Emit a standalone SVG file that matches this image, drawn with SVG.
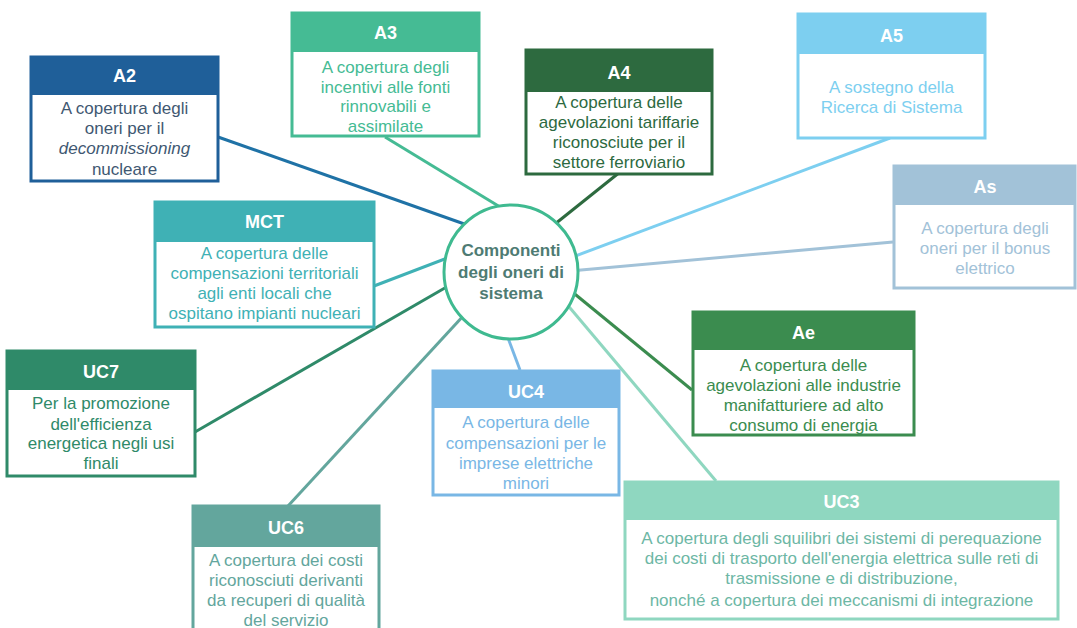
<svg xmlns="http://www.w3.org/2000/svg" width="1077" height="628" viewBox="0 0 1077 628">
  <style>
    .frame { fill: #ffffff; stroke: currentColor; stroke-width: 3; }
    .head { fill: currentColor; }
    .title { font-family: "Liberation Sans", Arial, sans-serif; font-size: 18px; font-weight: bold; fill: #ffffff; text-anchor: middle; }
    .body { font-family: "Liberation Sans", Arial, sans-serif; font-size: 17px; fill: currentColor; text-anchor: middle; }
    .links line { stroke-width: 3; fill: none; }
    .hub { font-family: "Liberation Sans", Arial, sans-serif; font-size: 17px; font-weight: bold; fill: #4e7b73; text-anchor: middle; }
  </style>
  <rect width="1077" height="628" fill="#ffffff"/>

  <!-- connectors from each component to the hub -->
  <g id="connectors" class="links">
    <line x1="218" y1="137" x2="470" y2="226" stroke="#1f72a6"/>
    <line x1="385" y1="137" x2="505" y2="210" stroke="#45bb94"/>
    <line x1="620" y1="172" x2="550" y2="228" stroke="#2d6a3f"/>
    <line x1="890" y1="138" x2="570" y2="258" stroke="#7dcff0"/>
    <line x1="893" y1="242" x2="570" y2="271" stroke="#a2c2d8"/>
    <line x1="374" y1="286" x2="455" y2="255" stroke="#3fb1b5"/>
    <line x1="195" y1="432" x2="450" y2="285" stroke="#2f8a69"/>
    <line x1="288" y1="506" x2="465" y2="314" stroke="#63a69d"/>
    <line x1="520" y1="370" x2="505" y2="330" stroke="#79b7e5"/>
    <line x1="716" y1="481" x2="565" y2="302" stroke="#8fd7c0"/>
    <line x1="692" y1="390" x2="565" y2="286" stroke="#3b8c4f"/>
  </g>

  <!-- central hub -->
  <g id="hub">
    <circle cx="511" cy="272" r="67" fill="#ffffff" stroke="#3fba90" stroke-width="3"/>
    <text class="hub" x="511" y="256">Componenti</text>
    <text class="hub" x="511" y="278">degli oneri di</text>
    <text class="hub" x="511" y="299">sistema</text>
  </g>

  <g id="A2" style="color:#1f5f99">
    <rect class="frame" x="31" y="57" width="187" height="124"/>
    <rect class="head" x="31" y="57" width="187" height="38"/>
    <text class="title" x="124.5" y="82">A2</text>
    <g style="color:#3f5872">
      <text class="body" x="124.5" y="114">A copertura degli</text>
      <text class="body" x="124.5" y="134">oneri per il</text>
      <text class="body" x="124.5" y="154" font-style="italic">decommissioning</text>
      <text class="body" x="124.5" y="175">nucleare</text>
    </g>
  </g>

  <g id="A3" style="color:#45bb94">
    <rect class="frame" x="292" y="13" width="187" height="123"/>
    <rect class="head" x="292" y="13" width="187" height="39"/>
    <text class="title" x="385.5" y="39">A3</text>
    <text class="body" x="385.5" y="73">A copertura degli</text>
    <text class="body" x="385.5" y="93">incentivi alle fonti</text>
    <text class="body" x="385.5" y="112">rinnovabili e</text>
    <text class="body" x="385.5" y="132">assimilate</text>
  </g>

  <g id="A4" style="color:#2d6a3f">
    <rect class="frame" x="526" y="50" width="186" height="124"/>
    <rect class="head" x="526" y="50" width="186" height="42"/>
    <text class="title" x="619" y="79">A4</text>
    <text class="body" x="619" y="108">A copertura delle</text>
    <text class="body" x="619" y="128">agevolazioni tariffarie</text>
    <text class="body" x="619" y="148">riconosciute per il</text>
    <text class="body" x="619" y="168">settore ferroviario</text>
  </g>

  <g id="A5" style="color:#7dcff0">
    <rect class="frame" x="798" y="14" width="187" height="124"/>
    <rect class="head" x="798" y="14" width="187" height="40"/>
    <text class="title" x="891.5" y="42">A5</text>
    <text class="body" x="891.5" y="93">A sostegno della</text>
    <text class="body" x="891.5" y="113">Ricerca di Sistema</text>
  </g>

  <g id="As" style="color:#a2c2d8">
    <rect class="frame" x="894" y="166" width="181" height="122"/>
    <rect class="head" x="894" y="166" width="181" height="39"/>
    <text class="title" x="985" y="193">As</text>
    <text class="body" x="985" y="234">A copertura degli</text>
    <text class="body" x="985" y="254">oneri per il bonus</text>
    <text class="body" x="985" y="274">elettrico</text>
  </g>

  <g id="MCT" style="color:#3fb1b5">
    <rect class="frame" x="155" y="202" width="219" height="125"/>
    <rect class="head" x="155" y="202" width="219" height="40"/>
    <text class="title" x="264.5" y="228">MCT</text>
    <text class="body" x="264.5" y="259">A copertura delle</text>
    <text class="body" x="264.5" y="279">compensazioni territoriali</text>
    <text class="body" x="264.5" y="299">agli enti locali che</text>
    <text class="body" x="264.5" y="319">ospitano impianti nucleari</text>
  </g>

  <g id="Ae" style="color:#3b8c4f">
    <rect class="frame" x="693" y="312" width="221" height="123"/>
    <rect class="head" x="693" y="312" width="221" height="38"/>
    <text class="title" x="803.5" y="339">Ae</text>
    <text class="body" x="803.5" y="371">A copertura delle</text>
    <text class="body" x="803.5" y="391">agevolazioni alle industrie</text>
    <text class="body" x="803.5" y="411">manifatturiere ad alto</text>
    <text class="body" x="803.5" y="431">consumo di energia</text>
  </g>

  <g id="UC7" style="color:#2f8a69">
    <rect class="frame" x="7" y="351" width="188" height="125"/>
    <rect class="head" x="7" y="351" width="188" height="39"/>
    <text class="title" x="101" y="378">UC7</text>
    <text class="body" x="101" y="409">Per la promozione</text>
    <text class="body" x="101" y="430">dell'efficienza</text>
    <text class="body" x="101" y="449">energetica negli usi</text>
    <text class="body" x="101" y="469">finali</text>
  </g>

  <g id="UC4" style="color:#79b7e5">
    <rect class="frame" x="433" y="371" width="186" height="124"/>
    <rect class="head" x="433" y="371" width="186" height="37"/>
    <text class="title" x="526" y="398">UC4</text>
    <text class="body" x="526" y="428">A copertura delle</text>
    <text class="body" x="526" y="449">compensazioni per le</text>
    <text class="body" x="526" y="469">imprese elettriche</text>
    <text class="body" x="526" y="489">minori</text>
  </g>

  <g id="UC6" style="color:#63a69d">
    <rect class="frame" x="193" y="506" width="186" height="130"/>
    <rect class="head" x="193" y="506" width="186" height="41"/>
    <text class="title" x="286" y="534">UC6</text>
    <text class="body" x="286" y="566">A copertura dei costi</text>
    <text class="body" x="286" y="586">riconosciuti derivanti</text>
    <text class="body" x="286" y="606">da recuperi di qualità</text>
    <text class="body" x="286" y="626">del servizio</text>
  </g>

  <g id="UC3" style="color:#8fd7c0">
    <rect class="frame" x="625" y="482" width="433" height="137"/>
    <rect class="head" x="625" y="482" width="433" height="38"/>
    <text class="title" x="841.5" y="508">UC3</text>
    <g style="color:#6db7a5">
      <text class="body" x="841.5" y="544">A copertura degli squilibri dei sistemi di perequazione</text>
      <text class="body" x="841.5" y="564">dei costi di trasporto dell'energia elettrica sulle reti di</text>
      <text class="body" x="841.5" y="584">trasmissione e di distribuzione,</text>
      <text class="body" x="841.5" y="606">nonché a copertura dei meccanismi di integrazione</text>
    </g>
  </g>
</svg>
